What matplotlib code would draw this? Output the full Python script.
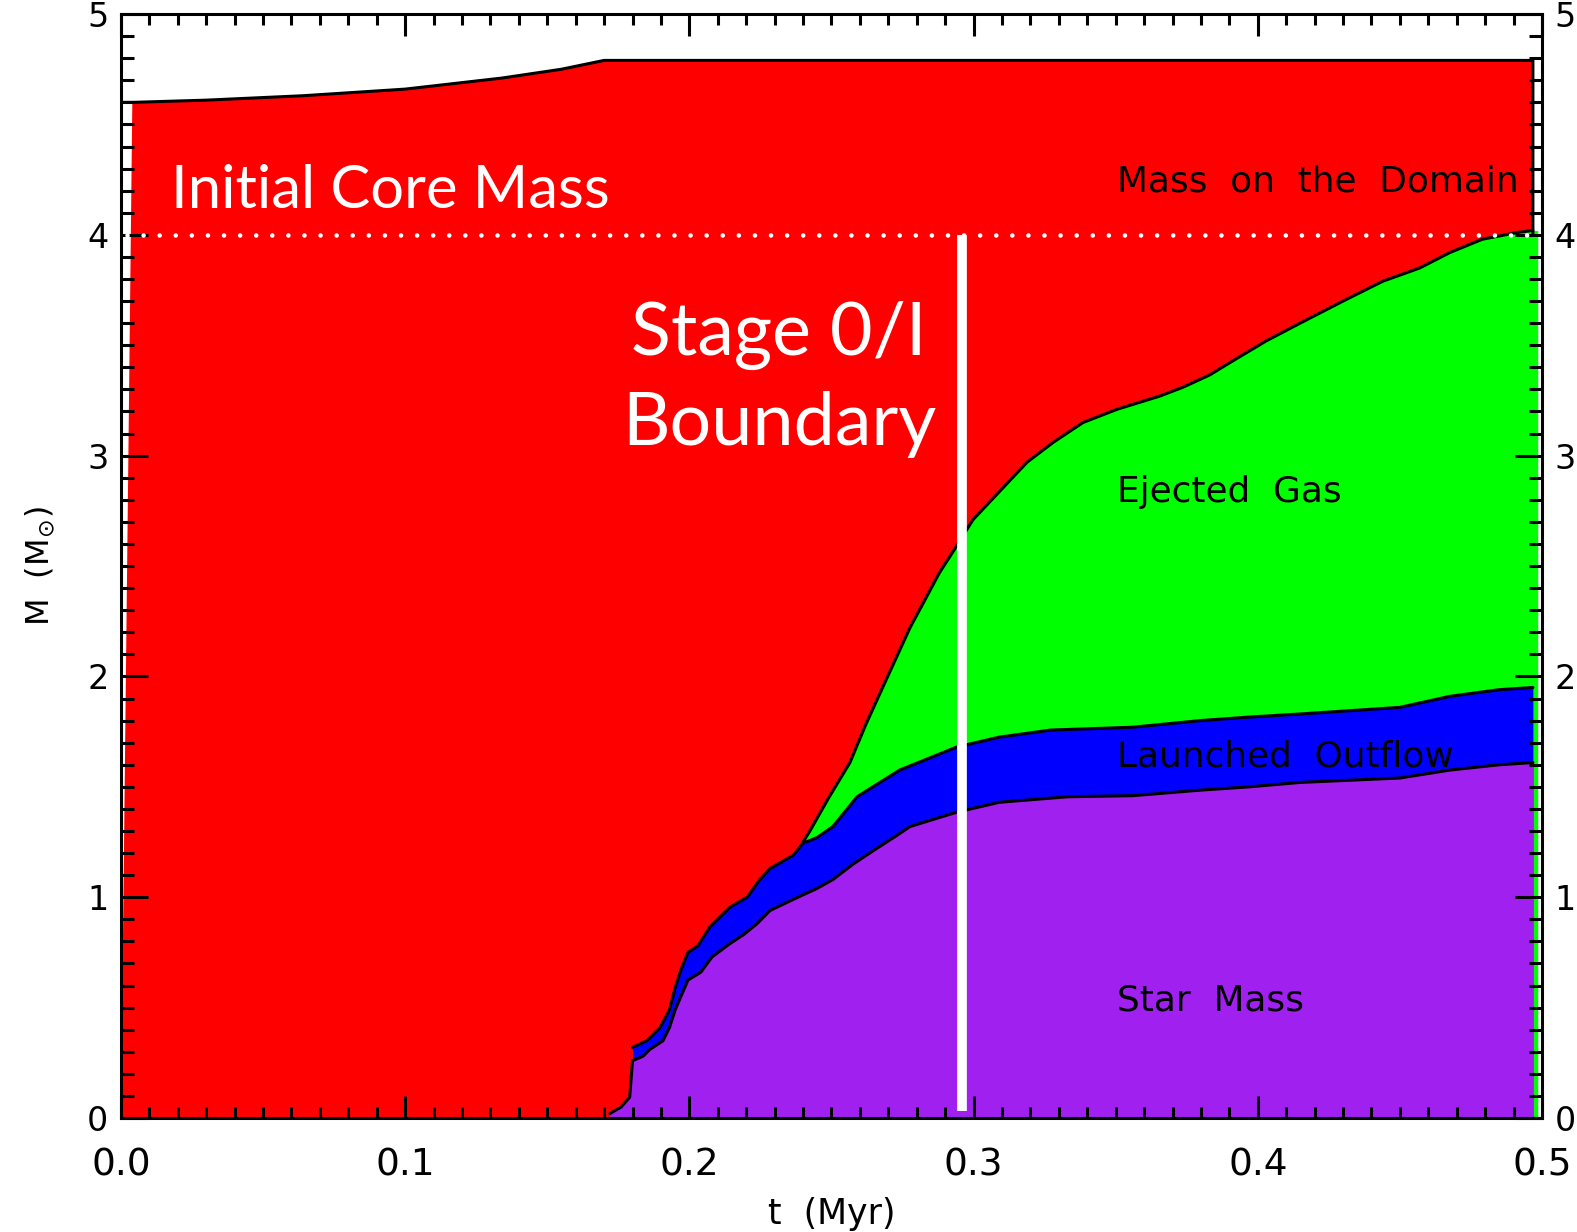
import numpy as np
import matplotlib.pyplot as plt
from matplotlib.ticker import MultipleLocator

# total mass on the domain (Msun) vs time (Myr)
t_dom = [0.0, 0.004, 0.03, 0.064, 0.10, 0.134, 0.155, 0.170, 0.4968]
m_dom = [4.60, 4.60, 4.61, 4.63, 4.66, 4.71, 4.75, 4.79, 4.79]

# cumulative ejected gas (stacked on top of outflow + star)
t_ej = [0.2400, 0.2424, 0.2490, 0.2565, 0.2620, 0.2680, 0.2776, 0.2880, 0.2940,
        0.2998, 0.3093, 0.3188, 0.3280, 0.3385, 0.3505, 0.3656, 0.3737, 0.3830,
        0.3913, 0.4030, 0.4149, 0.4300, 0.4440, 0.4570, 0.4676, 0.4790, 0.4910,
        0.4968, 0.4985]
m_ej = [1.25, 1.30, 1.45, 1.61, 1.78, 1.95, 2.22, 2.47, 2.59,
        2.71, 2.84, 2.97, 3.06, 3.15, 3.21, 3.27, 3.31, 3.365,
        3.43, 3.52, 3.60, 3.70, 3.79, 3.85, 3.92, 3.98, 4.01,
        4.02, 4.02]

# launched outflow (stacked on top of star)
t_out = [0.1800, 0.1850, 0.1897, 0.1930, 0.1950, 0.1970, 0.1995, 0.2030, 0.2072,
         0.2143, 0.2203, 0.2248, 0.2284, 0.2365, 0.2400, 0.2449, 0.2505, 0.2590,
         0.2740, 0.2940, 0.3090, 0.3270, 0.3560, 0.3797, 0.3970, 0.4149, 0.4500,
         0.4676, 0.4850, 0.4968]
m_out = [0.32, 0.35, 0.41, 0.49, 0.59, 0.67, 0.75, 0.78, 0.865,
         0.955, 1.00, 1.08, 1.13, 1.19, 1.245, 1.27, 1.32, 1.455,
         1.576, 1.68, 1.725, 1.757, 1.77, 1.80, 1.816, 1.83, 1.86,
         1.91, 1.94, 1.95]

# star mass
t_star = [0.1720, 0.1760, 0.1790, 0.1800, 0.1837, 0.1860, 0.1907, 0.1930, 0.1950,
          0.1970, 0.1995, 0.2040, 0.2080, 0.2143, 0.2190, 0.2238, 0.2284, 0.2365,
          0.2449, 0.2505, 0.2576, 0.2646, 0.2730, 0.2776, 0.2940, 0.3090, 0.3330,
          0.3560, 0.3797, 0.3970, 0.4149, 0.4500, 0.4676, 0.4850, 0.4968]
m_star = [0.02, 0.05, 0.095, 0.26, 0.28, 0.31, 0.35, 0.41, 0.49,
          0.55, 0.625, 0.66, 0.73, 0.79, 0.83, 0.88, 0.94, 0.99,
          1.04, 1.08, 1.15, 1.21, 1.28, 1.32, 1.385, 1.43, 1.455,
          1.46, 1.485, 1.50, 1.52, 1.54, 1.576, 1.60, 1.61]

t_core = 0.296      # stage 0/I boundary
m_core = 4.0        # initial core mass

red, green, blue, purple = '#ff0000', '#00ff00', '#0000ff', '#a020f0'

fig = plt.figure(figsize=(15.77, 12.32), dpi=100)
ax = fig.add_axes([0.0767, 0.0925, 0.9011, 0.8961])

# filled regions, back to front
ax.fill(np.r_[0.0, t_dom[1:], t_dom[-1]], np.r_[0.0, m_dom[1:], 0.0],
        color=red, lw=0)
ax.fill_between(t_ej, 0, m_ej, color=green, lw=0)
ax.fill_between(t_out, 0, m_out, color=blue, lw=0)
ax.fill_between(t_star, 0, m_star, color=purple, lw=0)

line = dict(color='k', lw=2.2, solid_joinstyle='round', solid_capstyle='round')
ax.plot(np.r_[t_dom, t_dom[-1]], np.r_[m_dom, m_core], **line)
ax.plot(t_ej[:-1], m_ej[:-1], **line)
ax.plot(t_out, m_out, **line)
ax.plot(t_star, m_star, **line)

# initial core mass and class boundary
ax.plot([0.002, 0.4968], [m_core, m_core], color='white', lw=3.3,
        linestyle=(0, (0.01, 3.5)), dash_capstyle='round')
ax.plot([t_core, t_core], [0.03, m_core], color='white', lw=7, solid_capstyle='butt')

ax.text(0.0176, 4.12, 'Initial Core Mass', color='white', fontsize=43,
        family='Lato', va='baseline', ha='left')
ax.text(0.2315, 3.456, 'Stage 0/I', color='white', fontsize=53,
        family='Lato', va='baseline', ha='center')
ax.text(0.2315, 3.048, 'Boundary', color='white', fontsize=53,
        family='Lato', va='baseline', ha='center')

lab = dict(color='k', fontsize=25.8, va='baseline', ha='left')
ax.text(0.3505, 4.195, 'Mass  on  the  Domain', **lab)
ax.text(0.3505, 2.79, 'Ejected  Gas', **lab)
ax.text(0.3505, 1.59, 'Launched  Outflow', **lab)
ax.text(0.3505, 0.485, 'Star  Mass', **lab)

ax.set_xlim(0, 0.5)
ax.set_ylim(0, 5)
ax.xaxis.set_major_locator(MultipleLocator(0.1))
ax.xaxis.set_minor_locator(MultipleLocator(0.01))
ax.yaxis.set_major_locator(MultipleLocator(1))
ax.yaxis.set_minor_locator(MultipleLocator(0.1))

for s in ax.spines.values():
    s.set_linewidth(2.2)
ax.tick_params(axis='both', which='both', direction='in', top=True, right=True,
               width=2.2, color='k')
ax.tick_params(axis='x', which='major', length=16, labelsize=27, pad=21)
ax.tick_params(axis='x', which='minor', length=8)
ax.tick_params(axis='y', which='major', length=19.5, labelsize=24, pad=9,
               labelright=True)
ax.tick_params(axis='y', which='minor', length=9.5)

ax.set_xlabel('t  (Myr)', fontsize=25, labelpad=10)
ax.set_ylabel(r'M  (M$_{\odot}$)', fontsize=23, labelpad=22)

fig.savefig('out.png', dpi=100)
